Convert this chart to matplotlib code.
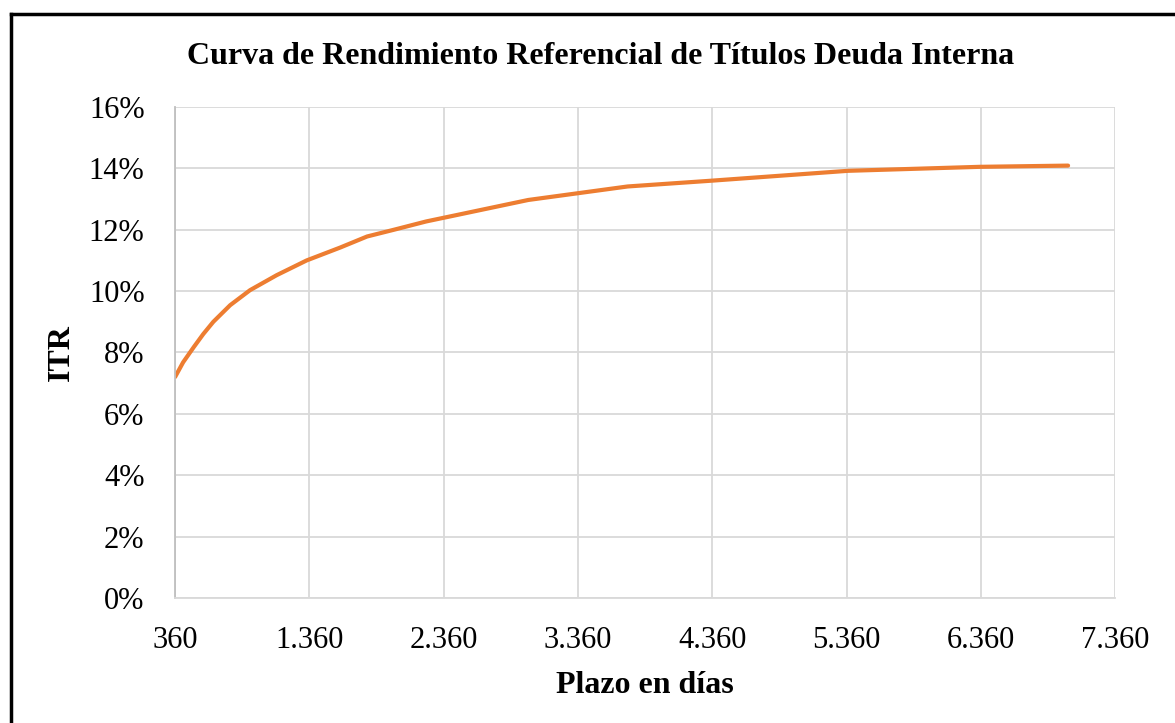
import matplotlib.pyplot as plt
from matplotlib.lines import Line2D
from matplotlib.ticker import FuncFormatter

# plazo (dias) y rendimiento (%)
plazo = [360, 420, 500, 570, 645, 770, 918, 1117, 1340, 1590, 1790, 1990, 2230,
         2480, 2990, 3730, 4360, 5370, 6350, 7010]
itr = [7.2, 7.68, 8.18, 8.6, 9.0, 9.54, 10.03, 10.52, 11.0, 11.42, 11.78, 12.0, 12.27,
       12.5, 12.97, 13.41, 13.6, 13.92, 14.05, 14.09]

x_ticks = [360, 1360, 2360, 3360, 4360, 5360, 6360, 7360]
y_ticks = [0, 2, 4, 6, 8, 10, 12, 14, 16]

plt.rcParams['font.family'] = ['Liberation Serif', 'DejaVu Serif']

fig = plt.figure(figsize=(11.75, 7.23), dpi=100)
ax = fig.add_axes([0.149, 0.173, 0.8, 0.679])

ax.plot(plazo, itr, color="#ED7D31", lw=3, solid_capstyle="round")

ax.set_xlim(360, 7360)
ax.set_ylim(0, 16)
ax.set_xticks(x_ticks)
ax.set_yticks(y_ticks)
ax.xaxis.set_major_formatter(FuncFormatter(lambda v, p: f"{int(v):,}".replace(",", ".")))
ax.yaxis.set_major_formatter(FuncFormatter(lambda v, p: f"{int(v)}%"))
ax.tick_params(length=0, labelsize=22)
ax.tick_params(axis="y", pad=22)
ax.tick_params(axis="x", pad=20)

ax.grid(True, color="#d9d9d9", lw=1.3)
ax.set_axisbelow(True)
for s in ax.spines.values():
    s.set_visible(False)
ax.spines["left"].set_visible(True)
ax.spines["left"].set_color("#bfbfbf")
ax.spines["left"].set_linewidth(1.3)
ax.spines["bottom"].set_visible(True)
ax.spines["bottom"].set_color("#d9d9d9")
ax.spines["bottom"].set_linewidth(1.3)

ax.set_xlabel("Plazo en días", fontsize=23, fontweight="bold", labelpad=12)
ax.set_ylabel("ITR", fontsize=23, fontweight="bold", labelpad=9)
fig.text(601 / 1175, 1 - 56 / 723, "Curva de Rendimiento Referencial de Títulos Deuda Interna",
         ha="center", va="center", fontsize=23, fontweight="bold")

# marco
fig.add_artist(Line2D([11 / 1175, 11 / 1175], [0, 1 - 14 / 723], color="black", lw=2.5))
fig.add_artist(Line2D([11 / 1175, 1], [1 - 14 / 723, 1 - 14 / 723], color="black", lw=2.5))

fig.savefig("out.png", dpi=100)
